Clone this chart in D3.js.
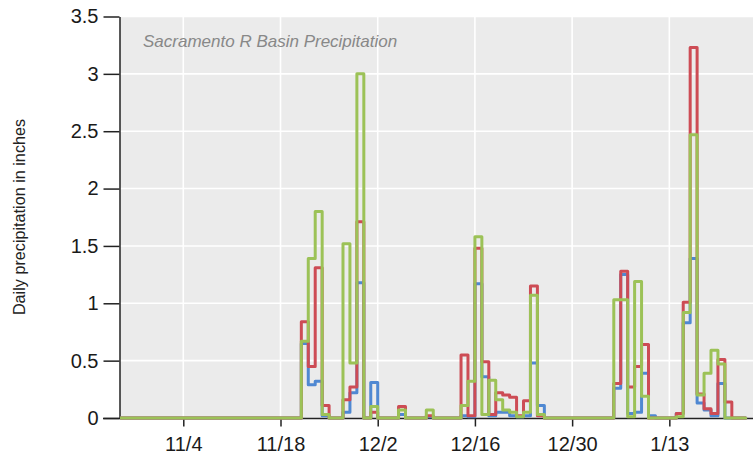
<!DOCTYPE html>
<html>
<head>
<meta charset="utf-8">
<script src="https://cdn.jsdelivr.net/npm/d3@7"></script>
<style>
  html, body { margin: 0; padding: 0; background: #ffffff; }
  svg { display: block; }
</style>
</head>
<body>
<svg id="chart" width="753" height="458"></svg>
<script>
// ---------------- data ----------------
const title = "Sacramento R Basin Precipitation";
const yAxisLabel = "Daily precipitation in inches";
const startDate = "2012-10-26";            // first daily value
const endDate = "2013-01-24";              // end of last daily step
const xDomain = ["2012-10-26", "2013-01-26"];
const xTickDates = ["2012-11-04", "2012-11-18", "2012-12-02", "2012-12-16", "2012-12-30", "2013-01-13"];
const xTickLabels = ["11/4", "11/18", "12/2", "12/16", "12/30", "1/13"];
const yTicks = [0, 0.5, 1, 1.5, 2, 2.5, 3, 3.5];
const yTickLabels = ["0", "0.5", "1", "1.5", "2", "2.5", "3", "3.5"];

// daily values starting 2012-10-26
const blueSeries = [
  0,0,0,0,0,0,0,0,0,0, 0,0,0,0,0,0,0,0,0,0, 0,0,0,0,0,0,
  0.65,0.29,0.32,0.02,0,0,0.05,0.22,1.18,0,
  0.31,0,0,0,0.03,0,0,0,0.01,0,
  0,0,0,0.02,0.01,1.17,0.36,0.02,0.05,0.05,
  0.02,0.01,0.02,0.48,0.11,0,0,0,0,0,
  0,0,0,0,0,0.26,1.25,0.04,0.05,0.39,
  0.02,0,0,0,0.04,0.83,1.39,0.13,0.07,0.02,
  0.30,0,0,0
];
const redSeries = [
  0,0,0,0,0,0,0,0,0,0, 0,0,0,0,0,0,0,0,0,0, 0,0,0,0,0,0,
  0.84,0.45,1.31,0.11,0,0,0.16,0.27,1.71,0,
  0.05,0,0,0,0.10,0,0,0,0.02,0,
  0,0,0,0.55,0.02,1.48,0.49,0.03,0.22,0.20,
  0.18,0.02,0.15,1.15,0.02,0,0,0,0,0,
  0,0,0,0,0,0.30,1.28,0.27,0.45,0.64,
  0,0,0,0,0.04,1.01,3.23,0.21,0.08,0.04,
  0.51,0.14,0,0
];
const greenSeries = [
  0,0,0,0,0,0,0,0,0,0, 0,0,0,0,0,0,0,0,0,0, 0,0,0,0,0,0,
  0.67,1.39,1.80,0.03,0,0,1.52,0.48,3.00,0,
  0.10,0,0,0,0.07,0,0,0,0.07,0,
  0,0,0,0.11,0.32,1.58,0.03,0.33,0.16,0.07,
  0.05,0.01,0.05,1.07,0.03,0,0,0,0,0,
  0,0,0,0,0,1.03,1.03,0.01,1.19,0.19,
  0,0,0,0,0.01,0.92,2.47,0.20,0.39,0.59,
  0.47,0,0,0
];

// ---------------- layout ----------------
const svg = d3.select("#chart");
const plotLeft = 120, plotTop = 16.5, plotRight = 753, plotBottom = 418;
const parse = d3.utcParse("%Y-%m-%d");

const x = d3.scaleUtc()
  .domain(xDomain.map(parse))
  .range([120.8, 759.6]);
const y = d3.scaleLinear()
  .domain([0, 3.5])
  .range([plotBottom, plotTop]);

const fontFamily = "'Liberation Sans', Arial, sans-serif";

// plot background
svg.append("rect")
  .attr("x", plotLeft).attr("y", plotTop)
  .attr("width", plotRight - plotLeft).attr("height", plotBottom - plotTop)
  .attr("fill", "#ebebeb");

// gridlines
const grid = svg.append("g").attr("stroke", "#ffffff").attr("stroke-width", 1.6);
grid.selectAll("line.h").data(yTicks.filter(v => v > 0)).join("line")
  .attr("x1", plotLeft).attr("x2", plotRight)
  .attr("y1", d => y(d)).attr("y2", d => y(d));
grid.selectAll("line.v").data(xTickDates.map(parse)).join("line")
  .attr("x1", d => x(d)).attr("x2", d => x(d))
  .attr("y1", plotTop).attr("y2", plotBottom);

// title
svg.append("text")
  .attr("x", 143).attr("y", 47)
  .attr("font-family", fontFamily)
  .attr("font-style", "italic")
  .attr("font-size", 17)
  .attr("fill", "#888888")
  .text(title);

// y axis
const yAxis = svg.append("g")
  .attr("transform", `translate(${plotLeft - 0.5},0)`)
  .call(d3.axisLeft(y).tickValues(yTicks)
    .tickFormat((d, i) => yTickLabels[i])
    .tickSize(16).tickSizeOuter(0).tickPadding(5));
yAxis.select(".domain").attr("stroke", "#222").attr("stroke-width", 1.5);
yAxis.selectAll(".tick line").attr("stroke", "#222").attr("stroke-width", 1.5);
yAxis.selectAll(".tick text")
  .attr("font-family", fontFamily).attr("font-size", 20).attr("fill", "#1a1a1a");

// x axis
const xAxis = svg.append("g")
  .attr("transform", `translate(0,${plotBottom + 0.5})`)
  .call(d3.axisBottom(x).tickValues(xTickDates.map(parse))
    .tickFormat((d, i) => xTickLabels[i])
    .tickSize(8).tickSizeOuter(0).tickPadding(10));
xAxis.select(".domain").remove();
xAxis.append("line")
  .attr("x1", 103).attr("x2", plotRight).attr("y1", 0).attr("y2", 0)
  .attr("stroke", "#222").attr("stroke-width", 1.5);
xAxis.selectAll(".tick line").attr("stroke", "#222").attr("stroke-width", 1.5);
xAxis.selectAll(".tick text")
  .attr("font-family", fontFamily).attr("font-size", 20).attr("fill", "#1a1a1a");

// y axis title
svg.append("text")
  .attr("transform", "translate(25,217) rotate(-90)")
  .attr("text-anchor", "middle")
  .attr("font-family", fontFamily)
  .attr("font-size", 16.2)
  .attr("fill", "#222")
  .text(yAxisLabel);

// series (step lines)
const start = parse(startDate);
const end = parse(endDate);
function toPoints(values) {
  const pts = values.map((v, i) => ({ date: d3.utcDay.offset(start, i), value: v }));
  pts.push({ date: end, value: values[values.length - 1] });
  return pts;
}
const line = d3.line()
  .x(d => x(d.date))
  .y(d => y(d.value))
  .curve(d3.curveStepAfter);

svg.append("clipPath").attr("id", "plotClip")
  .append("rect").attr("x", plotLeft).attr("y", 0)
  .attr("width", plotRight - plotLeft).attr("height", plotBottom + 4);

const series = [
  { values: blueSeries, color: "#4f88d2" },
  { values: redSeries, color: "#cd4c55" },
  { values: greenSeries, color: "#9cc257" }
];
svg.append("g").attr("clip-path", "url(#plotClip)")
  .selectAll("path").data(series).join("path")
  .attr("d", d => line(toPoints(d.values)))
  .attr("fill", "none")
  .attr("stroke", d => d.color)
  .attr("stroke-width", 3)
  .attr("stroke-linejoin", "round")
  .attr("stroke-linecap", "round");
</script>
</body>
</html>
